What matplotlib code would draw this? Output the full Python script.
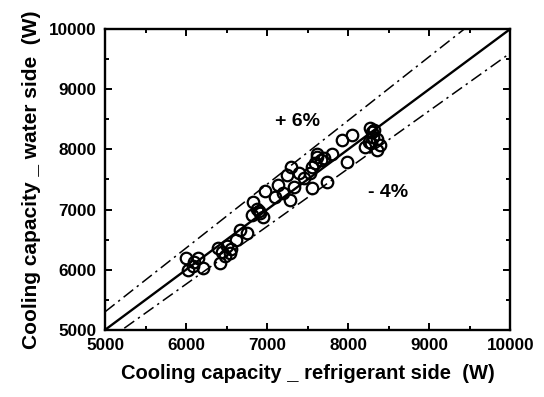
import matplotlib.pyplot as plt
import numpy as np
from matplotlib.ticker import MultipleLocator

plt.rcParams['font.family'] = ['Liberation Sans', 'DejaVu Sans']
plt.rcParams['font.weight'] = 'bold'

# measured points (refrigerant side, water side), W
q_ref = [6000, 6150, 6020, 6210, 6100, 6080,
         6400, 6500, 6540, 6420, 6480, 6620, 6670, 6750, 6440, 6560,
         6830, 6810, 6910, 6950, 6980, 6870, 6900,
         7140, 7240, 7300, 7390, 7330, 7200, 7280, 7530, 7550, 7740, 7450, 7100,
         7610, 7670, 7590, 7800, 7980, 7920, 8050, 7620, 7700, 7560,
         8270, 8320, 8310, 8350, 8210, 8280, 8350, 8390, 8300, 8260]
q_wat = [6190, 6190, 5990, 6030, 6120, 6070,
         6360, 6390, 6280, 6110, 6230, 6500, 6660, 6610, 6300, 6340,
         7130, 6910, 6940, 6880, 7300, 7010, 6970,
         7410, 7570, 7710, 7600, 7380, 7270, 7160, 7600, 7350, 7460, 7520, 7200,
         7930, 7820, 7770, 7930, 7790, 8150, 8240, 7880, 7850, 7700,
         8350, 8320, 8210, 8170, 8040, 8100, 7990, 8070, 8280, 8120]

line_x = [5000, 10000]
upper_pct = 1.06
lower_pct = 0.96

fig = plt.figure(figsize=(5.44, 3.97), dpi=100)
ax = fig.add_axes([0.193, 0.169, 0.745, 0.758])

x = np.array(line_x)
ax.plot(x, x, color='black', lw=1.7)
ax.plot(x, x * upper_pct, color='black', lw=1.1, dashes=(8, 3, 1.5, 3))
ax.plot(x, x * lower_pct, color='black', lw=1.1, dashes=(8, 3, 1.5, 3))
ax.plot(q_ref, q_wat, 'o', mfc='none', mec='black', ms=8.3, mew=1.6)

ax.text(7370, 8470, '+ 6%', ha='center', va='center', fontsize=14, fontweight='bold')
ax.text(8490, 7280, '- 4%', ha='center', va='center', fontsize=14, fontweight='bold')

ax.set_xlim(5000, 10000)
ax.set_ylim(5000, 10000)
ax.xaxis.set_major_locator(MultipleLocator(1000))
ax.yaxis.set_major_locator(MultipleLocator(1000))
ax.xaxis.set_minor_locator(MultipleLocator(500))
ax.yaxis.set_minor_locator(MultipleLocator(500))
ax.tick_params(which='both', direction='in', top=True, right=True, width=1.4,
               labelsize=12.3)
ax.tick_params(which='major', length=5, pad=6)
ax.tick_params(which='minor', length=3)
for s in ax.spines.values():
    s.set_linewidth(1.7)

ax.set_xlabel('Cooling capacity _ refrigerant side  (W)', fontsize=14.5,
              fontweight='bold', labelpad=8)
ax.set_ylabel('Cooling capacity _ water side  (W)', fontsize=15,
              fontweight='bold', labelpad=6)

fig.savefig('out.png', dpi=100)
